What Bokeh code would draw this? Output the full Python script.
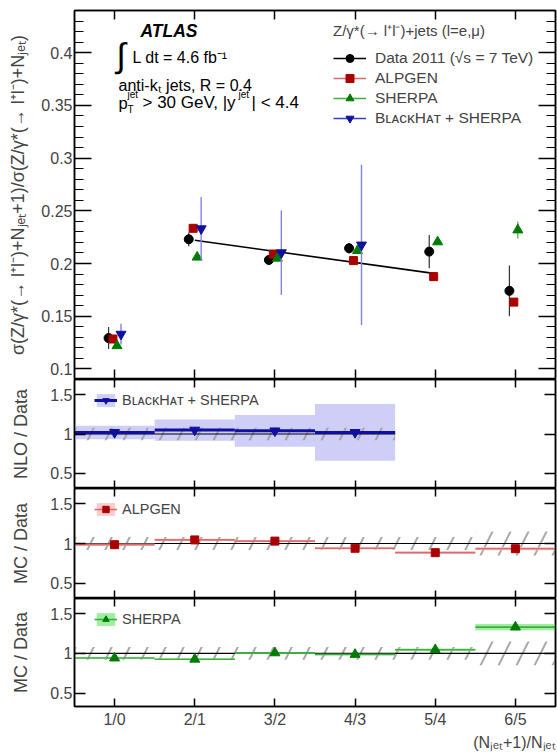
import numpy as np
from bokeh.plotting import figure
from bokeh.layouts import column
from bokeh.models import (Range1d, FixedTicker, LinearAxis, Legend, LegendItem, Label,
                          Title, CustomLabelingPolicy, AllLabels)
from bokeh.embed import file_html
from bokeh.resources import INLINE

FONT = "Liberation Sans"

# ---- jet multiplicity ratio bins ----
categories = ["1/0", "2/1", "3/2", "4/3", "5/4", "6/5"]
xpos = [1, 2, 3, 4, 5, 6]

# sigma(N+1)/sigma(N)
data_val = [0.1293, 0.2230, 0.2034, 0.2145, 0.2113, 0.1741]
data_err = [0.0104, 0.0065, 0.0045, 0.0050, 0.0158, 0.0240]
alpgen_val = [0.1284, 0.2334, 0.2090, 0.2028, 0.1876, 0.1634]
sherpa_val = [0.1220, 0.2060, 0.2050, 0.2122, 0.2205, 0.2318]
sherpa_err = [0.0020, 0.0020, 0.0020, 0.0020, 0.0030, 0.0080]
blackhat_val = [0.1330, 0.2330, 0.2103, 0.2176]
blackhat_err = [0.0098, 0.0300, 0.0400, 0.0760]

# straight-line fit over 2/1 .. 5/4
fit_x = [2.0, 5.0]
fit_y = [0.2221, 0.1904]

# ratios to data
data_band = [0.08, 0.08, 0.08, 0.08, 0.08, 0.15]
nlo_ratio = [1.02, 1.05, 1.04, 1.02]
nlo_band = [0.085, 0.135, 0.200, 0.360]
alpgen_ratio = [0.985, 1.045, 1.030, 0.940, 0.885, 0.935]
alpgen_band = [0.015, 0.015, 0.015, 0.015, 0.015, 0.020]
sherpa_ratio = [0.940, 0.925, 1.005, 0.985, 1.045, 1.330]
sherpa_band = [0.010, 0.010, 0.010, 0.010, 0.015, 0.040]

main_yticks = [0.1, 0.15, 0.2, 0.25, 0.3, 0.35, 0.4]
main_ylabels = ["0.1", "0.15", "0.2", "0.25", "0.3", "0.35", "0.4"]
ratio_yticks = [0.5, 1.0, 1.5]
ratio_ylabels = ["0.5", "1", "1.5"]

BLACK = "#000000"
RED = "#aa0000"
RED_LINE = "#e06a6a"
RED_BAND = "#f8c4c4"
GREEN = "#007a00"
GREEN_LINE = "#3fae3f"
GREEN_BAND = "#8fec8f"
BLUE = "#10109e"
BLUE_LINE = "#3a3acc"
BLUE_ERR = "#8282e6"
BLUE_BAND = "#c6c6f6"

FW = 481  # frame width


def no_labels():
    # mirrored axes carry ticks only
    return CustomLabelingPolicy(code="return new Set()")


def base_fig(frame_h, yr, top=0, bottom=0):
    p = figure(frame_width=FW, frame_height=frame_h,
               x_range=Range1d(0.5, 6.5), y_range=Range1d(*yr),
               output_backend="svg", toolbar_location=None,
               min_border_left=74, min_border_right=2,
               min_border_top=top, min_border_bottom=bottom)
    p.xgrid.visible = False
    p.ygrid.visible = False
    p.outline_line_color = "black"
    p.outline_line_width = 1.5
    p.background_fill_color = "white"
    p.border_fill_color = "white"
    return p


def style_y(ax, ticks, labels, minor, tin, min_in, show_labels=True):
    ax.ticker = FixedTicker(ticks=ticks, minor_ticks=minor)
    ax.major_tick_in = tin
    ax.major_tick_out = 0
    ax.minor_tick_in = min_in
    ax.minor_tick_out = 0
    ax.major_tick_line_width = 1.5
    ax.minor_tick_line_width = 1.2
    ax.axis_line_width = 1.5
    if show_labels:
        ax.major_label_overrides = dict(zip(ticks, labels))
        ax.major_label_text_font = FONT
        ax.major_label_text_font_size = "16px"
        ax.major_label_standoff = 2
    else:
        ax.major_label_text_font_size = "0px"
        ax.major_label_standoff = 0
        ax.major_label_policy = no_labels()


def style_x(ax, tin, show_labels=False):
    ax.ticker = FixedTicker(ticks=xpos, minor_ticks=[])
    ax.major_tick_in = tin
    ax.major_tick_out = 0
    ax.minor_tick_in = 0
    ax.minor_tick_out = 0
    ax.major_tick_line_width = 1.5
    ax.axis_line_width = 1.5
    if show_labels:
        ax.major_label_overrides = dict(zip(xpos, categories))
        ax.major_label_text_font = FONT
        ax.major_label_text_font_size = "16px"
        ax.major_label_standoff = 4
        ax.major_label_policy = AllLabels()
    else:
        ax.major_label_text_font_size = "0px"
        ax.major_label_standoff = 0
        ax.major_label_policy = no_labels()


def mirror_axes(p, yticks, minor, tin, min_in, xtin):
    right = LinearAxis()
    style_y(right, yticks, None, minor, tin, min_in, show_labels=False)
    p.add_layout(right, "right")
    top = LinearAxis()
    style_x(top, xtin)
    p.add_layout(top, "above")


def ylabel(p, text, size, standoff):
    ax = p.left[0]
    ax.axis_label = text
    ax.axis_label_text_font = FONT
    ax.axis_label_text_font_size = size
    ax.axis_label_text_font_style = "normal"
    ax.axis_label_standoff = standoff


# ================= main panel =================
main_minor = list(np.round(np.arange(0.09, 0.445, 0.01), 3))
main = base_fig(369, (0.09, 0.44), top=10)
style_y(main.left[0], main_yticks, main_ylabels, main_minor, 17, 9)
style_x(main.below[0], 10)
mirror_axes(main, main_yticks, main_minor, 17, 9, 9)
ylabel(main, "σ(Z/γ*(→ l⁺l⁻)+Nⱼₑₜ+1)/σ(Z/γ*(→ l⁺l⁻)+Nⱼₑₜ)", "18px", 10)

off_data, off_alp, off_she, off_bh = -0.075, -0.02, 0.03, 0.08
xd = [x + off_data for x in xpos]
xa = [x + off_alp for x in xpos]
xs = [x + off_she for x in xpos]
xb = [x + off_bh for x in xpos[:len(blackhat_val)]]

main.line(fit_x, fit_y, line_color=BLACK, line_width=1.6)

main.segment(x0=xd, x1=xd,
             y0=[v - e for v, e in zip(data_val, data_err)],
             y1=[v + e for v, e in zip(data_val, data_err)],
             line_color="#333333", line_width=1.2)
r_data = main.scatter(xd, data_val, marker="circle", size=9, color=BLACK)
r_alp = main.scatter(xa, alpgen_val, marker="square", size=8, color=RED)
main.segment(x0=xs, x1=xs,
             y0=[v - e for v, e in zip(sherpa_val, sherpa_err)],
             y1=[v + e for v, e in zip(sherpa_val, sherpa_err)],
             line_color=GREEN_LINE, line_width=1.2)
r_she = main.scatter(xs, sherpa_val, marker="triangle", size=10, color=GREEN)
main.segment(x0=xb, x1=xb,
             y0=[v - e for v, e in zip(blackhat_val, blackhat_err)],
             y1=[v + e for v, e in zip(blackhat_val, blackhat_err)],
             line_color=BLUE_ERR, line_width=1.4)
r_bh = main.scatter(xb, blackhat_val, marker="inverted_triangle", size=10, color=BLUE)

# legend key lines (no visible data of their own)
nan = [float("nan")]
l_data = main.line(x=nan, y=nan, line_color=BLACK, line_width=1.4)
l_alp = main.line(x=nan, y=nan, line_color=RED_LINE, line_width=1.4)
l_she = main.line(x=nan, y=nan, line_color=GREEN_LINE, line_width=1.4)
l_bh = main.line(x=nan, y=nan, line_color=BLUE_LINE, line_width=1.4)

leg = Legend(items=[
    LegendItem(label="Data 2011 (√s = 7 TeV)", renderers=[l_data, r_data]),
    LegendItem(label="ALPGEN", renderers=[l_alp, r_alp]),
    LegendItem(label="SHERPA", renderers=[l_she, r_she]),
    LegendItem(label="BʟᴀᴄᴋHᴀᴛ + SHERPA", renderers=[l_bh, r_bh]),
], location=(259, 251), title="Z/γ*(→ l⁺l⁻)+jets (l=e,μ)",
    title_text_font=FONT, title_text_font_size="15px", title_text_font_style="normal",
    title_standoff=8, label_text_font=FONT, label_text_font_size="15.5px",
    glyph_width=33, glyph_height=20, label_height=20, label_standoff=9,
    spacing=0, padding=0, margin=0, border_line_color=None, background_fill_alpha=0)
main.add_layout(leg)


def txt(p, x, y, text, size, style="normal"):
    p.add_layout(Label(x=x, y=y, x_units="screen", y_units="screen", text=text,
                       text_font=FONT, text_font_size=size, text_font_style=style,
                       text_baseline="middle", text_align="left", text_color="black"))


# frame-relative positions (x from left edge, y up from bottom edge)
txt(main, 66, 349, "ATLAS", "17.5px", "bold italic")
txt(main, 42, 325, "∫", "34px")
txt(main, 58, 322, "L dt = 4.6 fb⁻¹", "16px")
txt(main, 44, 294, "anti-kₜ jets, R = 0.4", "16px")
txt(main, 44, 277, "p", "16.5px")
txt(main, 53, 285, "jet", "10px")
txt(main, 53, 270, "T", "10px")
txt(main, 68, 277, "> 30 GeV, |y", "17px")
txt(main, 164, 285, "jet", "10px")
txt(main, 177, 277, "| < 4.4", "17px")


# ================= ratio panels =================
def ratio_fig(frame_h, yr, label="MC / Data", xlabels=False):
    p = base_fig(frame_h, yr)
    style_y(p.left[0], ratio_yticks, ratio_ylabels, [], 11, 0)
    style_x(p.below[0], 8, show_labels=xlabels)
    mirror_axes(p, ratio_yticks, [], 11, 0, 8)
    ylabel(p, label, "18px", 16)
    return p


def data_hatch(p, n):
    lefts = [x - 0.5 for x in xpos[:n]]
    rights = [x + 0.5 for x in xpos[:n]]
    p.quad(left=lefts, right=rights,
           bottom=[1 - e for e in data_band[:n]], top=[1 + e for e in data_band[:n]],
           fill_alpha=0, line_color=None, hatch_pattern="/", hatch_color="#a0a0a0",
           hatch_scale=36, hatch_weight=2.0, hatch_alpha=0.9)
    p.segment(x0=[lefts[0]], x1=[rights[-1]], y0=[1], y1=[1], line_color=BLACK, line_width=1.2)


def ratio_series(p, vals, band, col_line, col_band, col_mark, marker, msize):
    n = len(vals)
    lefts = [x - 0.5 for x in xpos[:n]]
    rights = [x + 0.5 for x in xpos[:n]]
    rb = p.quad(left=lefts, right=rights,
                bottom=[v - b for v, b in zip(vals, band)],
                top=[v + b for v, b in zip(vals, band)],
                fill_color=col_band, fill_alpha=0.85, line_color=None)
    rl = p.segment(x0=lefts, x1=rights, y0=vals, y1=vals, line_color=col_line, line_width=1.6)
    rm = p.scatter(xpos[:n], vals, marker=marker, size=msize, color=col_mark)
    return rb, rl, rm


def ratio_legend(p, text, rends, frame_h):
    lg = Legend(items=[LegendItem(label=text, renderers=list(rends))],
                location=(20, frame_h - 29), label_text_font=FONT,
                label_text_font_size="14.5px", glyph_width=23, glyph_height=16,
                label_height=16, label_standoff=5, spacing=0, padding=0, margin=0,
                border_line_color=None, background_fill_alpha=0)
    p.add_layout(lg)


nlo = ratio_fig(109, (0.31, 1.69), label="NLO / Data")
rb, rl, rm = ratio_series(nlo, nlo_ratio, nlo_band, BLUE, BLUE_BAND, BLUE,
                          "inverted_triangle", 10)
rl.glyph.line_width = 3
data_hatch(nlo, len(nlo_ratio))
nlo.renderers.remove(rl)
nlo.renderers.remove(rm)
nlo.renderers.append(rl)
nlo.renderers.append(rm)
ratio_legend(nlo, "BʟᴀᴄᴋHᴀᴛ + SHERPA", (rb, rl, rm), 109)

alp = ratio_fig(110, (0.31, 1.69))
data_hatch(alp, 6)
rb, rl, rm = ratio_series(alp, alpgen_ratio, alpgen_band, RED_LINE, RED_BAND, RED, "square", 8)
ratio_legend(alp, "ALPGEN", (rb, rl, rm), 110)

she = ratio_fig(108, (0.33, 1.69), xlabels=True)
data_hatch(she, 6)
rb, rl, rm = ratio_series(she, sherpa_ratio, sherpa_band, GREEN_LINE, GREEN_BAND, GREEN, "triangle", 10)
ratio_legend(she, "SHERPA", (rb, rl, rm), 108)

# x-axis title, right-aligned under the bottom axis
she.add_layout(Title(text="(Nⱼₑₜ+1)/Nⱼₑₜ", align="right", text_font=FONT,
                     text_font_size="16px", text_font_style="normal",
                     standoff=2, offset=0), "below")

page = column(main, nlo, alp, she, spacing=0)
open("out.html", "w").write(file_html(page, INLINE))
